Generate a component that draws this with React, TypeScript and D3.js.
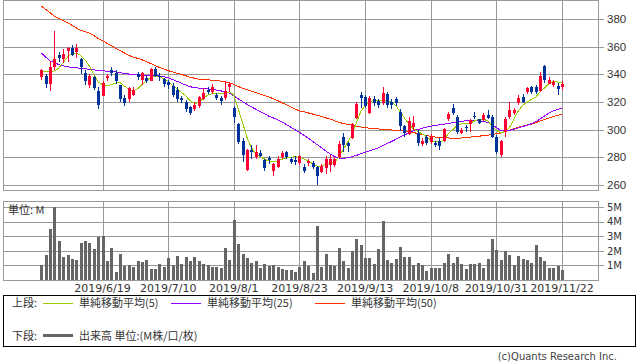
import React from "react";
import * as d3 from "d3";

const dates = [
  "2019/5/30","2019/5/31","2019/6/3","2019/6/4","2019/6/5","2019/6/6","2019/6/7","2019/6/10","2019/6/11","2019/6/12",
  "2019/6/13","2019/6/14","2019/6/17","2019/6/18","2019/6/19","2019/6/20","2019/6/21","2019/6/24","2019/6/25","2019/6/26",
  "2019/6/27","2019/6/28","2019/7/1","2019/7/2","2019/7/3","2019/7/4","2019/7/5","2019/7/8","2019/7/9","2019/7/10",
  "2019/7/11","2019/7/12","2019/7/16","2019/7/17","2019/7/18","2019/7/19","2019/7/22","2019/7/23","2019/7/24","2019/7/25",
  "2019/7/26","2019/7/29","2019/7/30","2019/7/31","2019/8/1","2019/8/2","2019/8/5","2019/8/6","2019/8/7","2019/8/8",
  "2019/8/9","2019/8/13","2019/8/14","2019/8/15","2019/8/16","2019/8/19","2019/8/20","2019/8/21","2019/8/22","2019/8/23",
  "2019/8/26","2019/8/27","2019/8/28","2019/8/29","2019/8/30","2019/9/2","2019/9/3","2019/9/4","2019/9/5","2019/9/6",
  "2019/9/9","2019/9/10","2019/9/11","2019/9/12","2019/9/13","2019/9/17","2019/9/18","2019/9/19","2019/9/20","2019/9/24",
  "2019/9/25","2019/9/26","2019/9/27","2019/9/30","2019/10/1","2019/10/2","2019/10/3","2019/10/4","2019/10/7","2019/10/8",
  "2019/10/9","2019/10/10","2019/10/11","2019/10/15","2019/10/16","2019/10/17","2019/10/18","2019/10/21","2019/10/23","2019/10/24",
  "2019/10/25","2019/10/28","2019/10/29","2019/10/30","2019/10/31","2019/11/1","2019/11/5","2019/11/6","2019/11/7","2019/11/8",
  "2019/11/11","2019/11/12","2019/11/13","2019/11/14","2019/11/15","2019/11/18","2019/11/19","2019/11/20","2019/11/21","2019/11/22",
];

const open = [
  338,339,333,345,354,351,357,359,356,351, 341,332,338,328,324,337,343,341,332,323,
  322,325,340,336,337.5,335.4,344,339,336.4,334.2, 331.5,329,322.7,320.2,316.4,314.7,317,322.5,329,327,
  325.4,322.7,323,330.6,316,304,292,270.5,285.5,280, 283.3,278,279.8,270,273,280,283.6,278.6,278,276,
  273.2,275.7,275.7,273,269.5,272,274.5,274.5,280,295, 290.6,294,308.5,325,323.4,312,322,321,319,326,
  320,322,312.5,302.6,297,302,297.5,290,295,291.3, 290.6,292,292,307.5,316,309,297.5,302,304,310,
  307.5,307,310.6,309.4,295,281.5,298.5,309.5,312,319, 323.8,327,330.6,330.6,328,346,333,332.5,331.6,331,
];
const high = [
  344,340,350,371,356,358,360,361,362,352, 343,340,339,331,335,340,345,343,332.5,325,
  331,331,342,342,338.5,344.5,345,340.7,337.1,335.9, 334,331,324.3,321.4,317.2,320,324.5,330,331,333,
  326.5,324,335,334.7,317.1,305,293.8,286,289,288.9, 285,278.6,281,276,281,284.5,284.5,280.4,281,282,
  275.5,278.6,277,273.7,275.5,281,281.5,280.4,292,297.5, 291.3,305,320,327,325,324,324,322.5,330.5,327.5,
  322,323.5,314.7,303.5,309,310,299.5,294,296.5,297, 292,294,301.5,313,318.5,310.5,301,303.4,308,313,
  308,312,314.2,310.6,296,292.5,309.5,320,315.5,325, 326,331,331.5,332,342,346.7,337.9,335.9,334,335,
];
const low = [
  336,330,328,343,349,348,349,353,352,340, 332,330,329,315,324,335,339,333,320,317,
  320,324,336,332,333.5,335,338,335.4,331,329.2, 323.5,320,319.5,312.6,310.6,313.5,315.5,321.4,326,326,
  321.4,318,321.4,327,304.6,289.6,276.8,270.3,279,278.6, 280,270.3,275.5,266.5,272.5,278.6,279,275,274.8,274.8,
  268.4,273.9,271.9,260,268.4,268,269.6,273,279.4,284, 284,293,308,316,316,311,317,316,318,315.5,
  315,317,299,295,296,300,288,288,289,290, 287.7,285,291.3,306,310.5,297,297,298.5,298.5,308,
  304,306,307.5,293.8,282.4,280.5,295,308,310.6,318, 319,326,326,326,327.5,333.5,333,330.6,325,329,
];
const close = [
  343,333,345,351,352,355,359,354,359,345, 335,338.5,330,318,334,339,341,335,322,319,
  330,329,338,341,335.2,343.6,339,338,333,332.3, 325,322,321.4,315,312.3,317.8,323.8,326.8,327.3,330.5,
  322.8,321,328,333,309,291.3,281.5,285.5,283.5,284, 281.2,272,278,275.2,279,283.2,280,276.8,276.5,281,
  270.3,277.5,273.2,266.5,273.5,279,278.6,278.6,290,289, 288.2,304,318.5,322.7,317.1,323,319,318,326.5,318,
  317.5,319,302.3,297.4,306.5,305,290.6,292,290.6,294.9, 289,288.5,300.3,311.5,312,298.5,299.8,301.4,307,309.3,
  305,310.6,308.2,294.5,283.5,292,308,314,314.2,323, 320.2,330.4,327,327.5,339,336,336.2,334.7,329.5,333,
];
const volume = [
  1.03,1.72,3.51,5.0,2.68,1.58,1.72,1.45,1.38,2.57, 2.68,2.57,2.13,2.96,3.03,1.31,2.2,0.55,1.79,0.96,
  1.01,0.89,1.31,1.24,1.38,0.76,0.76,1.1,0.92,1.51, 1.03,1.65,1.1,1.58,1.31,1.58,1.31,1.1,1.03,0.92,
  0.92,0.83,2.2,1.38,4.13,2.48,1.79,1.51,1.17,1.31, 0.83,1.1,0.96,1.01,0.92,0.76,0.69,0.69,0.55,0.89,
  1.31,0.96,0.48,3.72,0.92,1.79,1.03,0.96,2.2,1.31, 0.83,2.0,2.82,2.41,1.51,1.51,1.1,2.13,4.06,1.38,
  1.17,1.45,2.27,1.58,1.58,1.03,1.17,1.03,0.62,0.83, 0.83,0.83,1.17,1.79,1.17,1.58,1.1,0.76,1.1,1.1,
  1.17,0.83,1.45,2.82,2.06,1.38,2.0,1.72,1.03,1.65, 1.45,1.38,1.17,2.41,1.58,1.31,0.83,0.83,0.96,0.69,
];
const ma5 = [
  341.9,341.9,341.9,342.5,344.5,348.5,352.5,355,355.5,353.7, 350.4,346,340,334.5,332.5,331.8,332.5,333.6,334,331.5,
  329.2,328.2,329.5,332.5,335.5,337.9,338.8,338,337,335, 332,329.5,327,324.5,321,319,319.5,322.5,325,326,
  326,325.8,326,327.5,325,315,305,294.5,287,282.5, 280.5,278.8,277.3,276.8,277.5,278.6,279.4,280,280.5,280,
  279,277,275.5,273.6,273.2,275.2,275.7,276.1,280.5,285.5, 291,296,305,313,317.3,320,321.2,321.4,321.4,321,
  319.8,317.5,313,308.5,304,300.8,298.8,297,295,292.5, 291.3,291.3,292.3,297,300,302.8,304.2,304.6,304.6,306.3,
  307.4,307.5,306.5,303,299.5,297.8,298.6,301.5,307.5,313.5, 317.5,319.8,321.8,323.5,327.3,330.2,333.3,334.7,334.5,334,
];
const ma25 = [
  355.6,352.5,349.6,348.5,347,346.2,345.5,345,344.7,344.4, 344,343.6,343.2,342.8,342.5,342.3,342.1,341.7,341.2,340.7,
  340.2,339.8,339.6,339.4,339.1,338.8,338.8,338.8,338.2,337.5, 336.3,335,333.6,332.3,331,330.5,330,329.7,329.4,329.1,
  328.6,328.1,327.2,326.4,324.5,322.3,320.3,318.4,316.6,314.8, 313,311.4,309.8,308.5,307.2,305.6,303.7,301.8,299.9,298,
  296,293.9,291.6,289.3,287,284.7,282.4,280.5,279.5,279.3, 279.6,280.4,281.4,282.5,283.6,284.7,285.8,286.9,288.3,289.9,
  291.4,293,294.6,296.2,297.7,299,300,301,301.8,302.5, 303,303.5,304,304.5,305,305.6,306.1,306.4,306.5,306.6,
  306.5,306,305.3,303.8,301.5,299.5,299,299.5,300.3,301.2, 302.2,303.2,304.3,305.8,307.7,309.8,312,313.6,314.7,315.4,
];
const ma50 = [
  389.4,387,384.5,382,380.3,378.8,377.2,375.5,373.6,371.8, 370.8,369.7,368,366,364.2,362.5,360.7,358.9,357.1,355.4,
  353.7,352.5,351.6,350.5,349.2,347.8,346.4,345,343.8,342.7, 341.7,340.8,340,339,337.9,337.2,336.5,336.3,336,335.8,
  335.5,335.1,334.6,334,332.7,331.2,330,329,327.9,326.8, 325.8,324.7,323.7,322.4,321,319.5,318,316.4,315,313.6,
  312.9,312.1,311.3,310.5,309.6,308.6,307.7,306.5,305.3,304.5, 303.8,303.2,302.6,302,301.5,301,300.8,300.5,300.2,300,
  299.8,299.6,299.3,299,298.6,298,297.2,296.5,295.8,295.2, 294.7,294.4,294.2,294,293.8,293.8,294,294.2,294.6,295,
  295.3,295.6,296,296.4,297,297.6,298.6,299.6,300.8,301.7, 302.5,303.3,304,305,306.3,307.3,308.4,309.5,310.4,311.1,
];

const dateTicks = ["2019/6/19","2019/7/10","2019/8/1","2019/8/23","2019/9/13","2019/10/8","2019/10/31","2019/11/22"];
const priceTicks = [260, 280, 300, 320, 340, 360, 380];
const volumeTicks = [1, 2, 3, 4, 5];
const maLabels = ["単純移動平均(5)", "単純移動平均(25)", "単純移動平均(50)"];

const W = 638, H = 362;
const UP = "#ff0033", DOWN = "#003399";
const GRID = "#999999";
const MA_COLORS = ["#99cc00", "#9900ff", "#ff3300"];
const FONT = "'DejaVu Sans', sans-serif";
const JFONT = "'Noto Sans CJK JP', sans-serif";

export default function App() {
  const x = d3.scalePoint<string>().domain(dates).range([41.3, 562]);
  const y = d3.scaleLinear().domain([260, 380]).range([185, 19]);
  const yv = d3.scaleLinear().domain([0, 5]).range([280, 207.3]);

  const px = (v: number) => Math.round(v) + 0.5;

  const mainL = 3.5, mainR = 598.5, mainT = 0.5, mainB = 190.5;
  const volT = 201.5, volB = 280.5;

  const lineFor = (arr: number[]) =>
    d3.line<number>().x((_, i) => x(dates[i]) as number).y((d) => y(d))(arr) as string;

  return (
    <svg width={W} height={H} style={{ position: "fixed", left: 0, top: 0, background: "#fff" }}
      xmlns="http://www.w3.org/2000/svg">
      <rect x={0} y={0} width={W} height={H} fill="#fff" />
      {/* main grid */}
      <g shapeRendering="crispEdges" stroke={GRID} strokeWidth={1}>
        {priceTicks.map((t) => (
          <line key={"pg" + t} x1={mainL} x2={mainR + 5} y1={px(y(t))} y2={px(y(t))} />
        ))}
        {dateTicks.map((d) => (
          <line key={"dg" + d} x1={px(x(d) as number)} x2={px(x(d) as number)} y1={mainT} y2={mainB} />
        ))}
        <rect x={mainL} y={mainT} width={mainR - mainL} height={mainB - mainT} fill="none" />
        {volumeTicks.map((t) => (
          <line key={"vg" + t} x1={mainL} x2={mainR + 5} y1={px(yv(t))} y2={px(yv(t))} />
        ))}
        {dateTicks.map((d) => (
          <line key={"vdg" + d} x1={px(x(d) as number)} x2={px(x(d) as number)} y1={volT} y2={volB} />
        ))}
        <rect x={mainL} y={volT} width={mainR - mainL} height={volB - volT} fill="none" />
      </g>
      {/* price labels */}
      {priceTicks.map((t) => (
        <text key={"pl" + t} x={607} y={y(t)} dy="0.36em" fontFamily="'Liberation Sans', sans-serif"
          fontSize={11.5} fill="#333">{t}</text>
      ))}
      {volumeTicks.map((t) => (
        <text key={"vl" + t} x={607} y={yv(t)} dy="0.36em" fontFamily={FONT} fontSize={10} fill="#333">{t + "M"}</text>
      ))}
      {dateTicks.map((d) => (
        <text key={"dl" + d} x={x(d) as number} y={292} textAnchor="middle" fontFamily={FONT}
          fontSize={11} fill="#333">{d}</text>
      ))}
      <text x={8} y={213.5} fontFamily={JFONT} fontSize={11} fill="#333">単位: M</text>

      {/* volume bars */}
      <g shapeRendering="crispEdges" fill="#666666">
        {volume.map((v, i) => {
          const cx = Math.round(x(dates[i]) as number);
          return <rect key={"v" + i} x={cx - 1} y={yv(v)} width={3} height={yv(0) - yv(v)} />;
        })}
      </g>

      {/* MA lines */}
      <g fill="none" strokeWidth={1} shapeRendering="crispEdges">
        <path d={lineFor(ma50)} stroke={MA_COLORS[2]} />
        <path d={lineFor(ma25)} stroke={MA_COLORS[1]} />
        <path d={lineFor(ma5)} stroke={MA_COLORS[0]} />
      </g>

      {/* candles */}
      <g shapeRendering="crispEdges">
        {dates.map((d, i) => {
          const cx = Math.round(x(d) as number);
          const up = close[i] >= open[i];
          const col = up ? UP : DOWN;
          const top = y(Math.max(open[i], close[i]));
          const bot = y(Math.min(open[i], close[i]));
          return (
            <g key={"c" + i}>
              <line x1={cx + 0.5} x2={cx + 0.5} y1={y(high[i])} y2={y(low[i])} stroke={col} />
              <rect x={cx - 1} y={top} width={3} height={Math.max(1, bot - top)} fill={col} />
            </g>
          );
        })}
      </g>

      {/* legend */}
      <rect x={3.5} y={295.5} width={632} height={50.5} fill="none" stroke="#000" shapeRendering="crispEdges" />
      <text x={12} y={307} fontFamily={JFONT} fontSize={11} fill="#333">上段:</text>
      {[43, 171, 315].map((lx, k) => (
        <g key={"lg" + k}>
          <line x1={lx} x2={lx + 30} y1={303.5} y2={303.5} stroke={MA_COLORS[k]} shapeRendering="crispEdges" />
          <text x={lx + 36} y={307} fontFamily={JFONT} fontSize={11} fill="#333">{maLabels[k]}</text>
        </g>
      ))}
      <text x={12} y={339.5} fontFamily={JFONT} fontSize={11} fill="#333">下段:</text>
      <line x1={43} x2={73} y1={335.5} y2={335.5} stroke="#666" strokeWidth={3} shapeRendering="crispEdges" />
      <text x={79} y={339.5} fontFamily={JFONT} fontSize={11} fill="#333">出来高 単位:(M株/口/枚)</text>
      <text x={617} y={360} textAnchor="end" fontFamily={FONT} fontSize={10} fill="#444">(c)Quants Research Inc.</text>
    </svg>
  );
}
